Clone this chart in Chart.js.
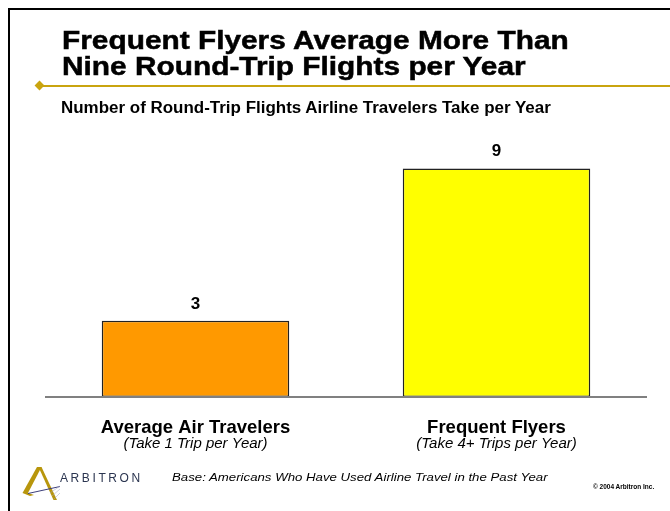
<!DOCTYPE html>
<html>
<head>
<meta charset="utf-8">
<script src="https://cdn.jsdelivr.net/npm/chart.js@4"></script>
<style>
  body { margin: 0; background: #fff; font-family: "Liberation Sans", Arial, sans-serif; }
  #slide { position: relative; width: 670px; height: 511px; overflow: hidden; }
  #frame { position: absolute; left: 8px; top: 8px; width: 700px; height: 600px; border-left: 2px solid #000; border-top: 2px solid #000; }
  #chartBox { position: absolute; left: 0; top: 0; width: 670px; height: 511px; }
  .txt { position: absolute; white-space: nowrap; color: #000; transform-origin: left top; }
  #title { left: 62px; top: 26.5px; font-size: 25.5px; line-height: 26px; font-weight: bold; transform: scaleX(1.17); -webkit-text-stroke: 0.5px #000; }
  #rule { position: absolute; left: 39px; top: 84.7px; width: 640px; height: 2px; background: #c9a40f; }
  #diamond { position: absolute; left: 35.5px; top: 82.2px; width: 7px; height: 7px; background: #c9a40f; transform: rotate(45deg); }
  #subtitle { left: 61px; top: 99.8px; font-size: 16px; line-height: 16px; font-weight: bold; transform: scaleX(1.06); }
  #base { left: 172px; top: 472.3px; font-size: 11.5px; line-height: 11.5px; font-style: italic; transform: scaleX(1.15); }
  #copy { left: 593px; top: 483.5px; font-size: 6.5px; line-height: 6.5px; font-weight: bold; }
  #logoText { left: 60px; top: 471.5px; font-size: 12px; line-height: 12px; letter-spacing: 2.6px; color: #2b3550; }
</style>
</head>
<body>
<div id="slide">
  <div id="frame"></div>
  <div id="chartBox"><canvas id="barChart"></canvas></div>
  <div class="txt" id="title">Frequent Flyers Average More Than<br>Nine Round-Trip Flights per Year</div>
  <div id="rule"></div>
  <div id="diamond"></div>
  <div class="txt" id="subtitle">Number of Round-Trip Flights Airline Travelers Take per Year</div>
  <svg style="position:absolute;left:0;top:455px" width="70" height="56">
    <polygon points="37,12 41.5,12 28,38 22.5,38" fill="#b8960c"/>
    <polygon points="38.5,12 41.5,12 57,45 53.5,45" fill="#b8960c"/>
    <polygon points="22.5,38 28,38 34,40 30,41" fill="#b8960c"/>
    <line x1="28" y1="38.5" x2="60" y2="31.5" stroke="#3d3f7a" stroke-width="1"/>
    <line x1="50" y1="38" x2="60" y2="31" stroke="#a0a0c0" stroke-width="0.5"/>
    <line x1="52" y1="41" x2="60" y2="34" stroke="#a0a0c0" stroke-width="0.5"/>
    <line x1="54" y1="44" x2="60" y2="38" stroke="#a0a0c0" stroke-width="0.5"/>
  </svg>
  <div class="txt" id="logoText">ARBITRON</div>
  <div class="txt" id="base">Base: Americans Who Have Used Airline Travel in the Past Year</div>
  <div class="txt" id="copy">© 2004 Arbitron Inc.</div>
</div>
<script>
const categories = ['Average Air Travelers', 'Frequent Flyers'];
const subLabels = ['(Take 1 Trip per Year)', '(Take 4+ Trips per Year)'];
const trips = [3, 9];
const barColors = ['#ff9900', '#ffff00'];

const labelPlugin = {
    id: 'labelPlugin',
    afterDraw(chart) {
        const ctx = chart.ctx;
        const area = chart.chartArea;
        const x = chart.scales.x;
        // baseline under the bars
        ctx.save();
        ctx.strokeStyle = '#808080';
        ctx.lineWidth = 2;
        ctx.beginPath();
        ctx.moveTo(area.left, area.bottom);
        ctx.lineTo(area.right, area.bottom);
        ctx.stroke();

        ctx.fillStyle = '#000';
        ctx.textAlign = 'center';
        ctx.textBaseline = 'alphabetic';
        const meta = chart.getDatasetMeta(0);
        meta.data.forEach((bar, i) => {
            ctx.font = 'bold 17px "Liberation Sans", Arial, sans-serif';
            ctx.fillText(trips[i], bar.x, bar.y - 12);

            const cx = x.getPixelForValue(i);
            ctx.font = 'bold 18.5px "Liberation Sans", Arial, sans-serif';
            ctx.fillText(categories[i], cx, area.bottom + 36);
            ctx.font = 'italic 15px "Liberation Sans", Arial, sans-serif';
            ctx.fillText(subLabels[i], cx, area.bottom + 51);
        });
        ctx.restore();
    }
};

new Chart(document.getElementById('barChart'), {
    type: 'bar',
    data: {
        labels: categories,
        datasets: [{
            data: trips,
            backgroundColor: barColors,
            borderColor: '#222222',
            borderWidth: 1.5,
            borderSkipped: false,
            barPercentage: 0.623,
            categoryPercentage: 1
        }]
    },
    options: {
        responsive: true,
        maintainAspectRatio: false,
        animation: false,
        layout: { padding: { left: 45, right: 23, top: 143, bottom: 114 } },
        scales: {
            x: { display: false },
            y: { display: false, min: 0, max: 10 }
        },
        plugins: {
            legend: { display: false },
            tooltip: { enabled: false }
        }
    },
    plugins: [labelPlugin]
});
</script>
</body>
</html>
